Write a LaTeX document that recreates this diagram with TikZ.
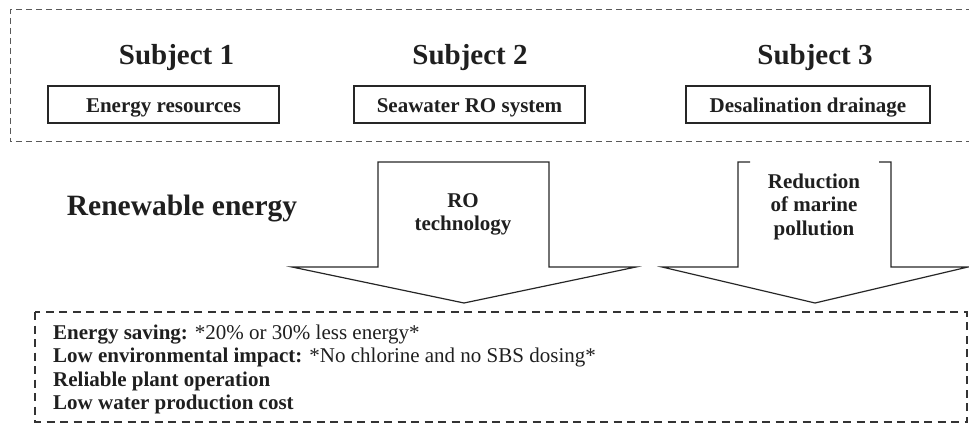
\documentclass[tikz,border=0pt]{standalone}
\usepackage{fontspec}
\setmainfont{Liberation Serif}
\begin{document}
\begin{tikzpicture}[x=1pt,y=-1pt,
  txt/.style={inner sep=0pt,anchor=base,text=black!88,font=\bfseries\fontsize{21}{23.5}\selectfont,align=center},
  subj/.style={txt,font=\bfseries\fontsize{29}{32}\selectfont},
  subjbox/.style={draw=black!85,line width=1.8pt},
  bigarrow/.style={draw=black!85,line width=1.2pt,line join=miter},
  topdash/.style={draw=black!65,line width=1pt,dash pattern=on 6pt off 4pt},
  botdash/.style={draw=black!80,line width=1.8pt,dash pattern=on 8pt off 5.5pt},
  itemtxt/.style={inner sep=0pt,anchor=base west,text=black!88,font=\fontsize{21}{23.5}\selectfont}]
\useasboundingbox (0,0) rectangle (969,425);
% top dashed frame (open at right edge)
\draw[topdash] (972,10) -- (10,10) -- (10,142) -- (972,142);
% subjects
\node[subj] (s1) at (176.5,65) {Subject 1};
\node[subj] (s2) at (470,65) {Subject 2};
\node[subj] (s3) at (815,65) {Subject 3};
\draw[subjbox] (48,86) rectangle (279,123);
\draw[subjbox] (354,86) rectangle (585,123);
\draw[subjbox] (686,86) rectangle (930,123);
\node[txt] (b1) at (163.5,113) {Energy resources};
\node[txt] (b2) at (469.5,113) {Seawater RO system};
\node[txt] (b3) at (808,113) {Desalination drainage};
% renewable energy
\node[subj,font=\bfseries\fontsize{29.5}{32}\selectfont] (re) at (182,215) {Renewable energy};
% arrow 2
\draw[bigarrow] (378,162) -- (549,162) -- (549,267) -- (636,267) -- (464,303) -- (292,267) -- (378,267) -- cycle;
\node[txt] (a2) at (463,230.5) {RO\\technology};
% arrow 3 (open top with small ticks)
\draw[bigarrow] (750,162) -- (738,162) -- (738,267) -- (662,267) -- (815,303) -- (968,267) -- (891,267) -- (891,162) -- (879,162);
\node[txt] (a3) at (814,235) {Reduction\\of marine\\pollution};
% bottom dashed frame
\draw[botdash] (35,312) rectangle (967,422);
\node[itemtxt] (i1) at (53,339) {\textbf{Energy saving:} *20\% or 30\% less energy*};
\node[itemtxt] (i2) at (53,362.5) {\textbf{Low environmental impact:} *No chlorine and no SBS dosing*};
\node[itemtxt] (i3) at (53,386) {\textbf{Reliable plant operation}};
\node[itemtxt] (i4) at (53,409.5) {\textbf{Low water production cost}};
\end{tikzpicture}
\end{document}
